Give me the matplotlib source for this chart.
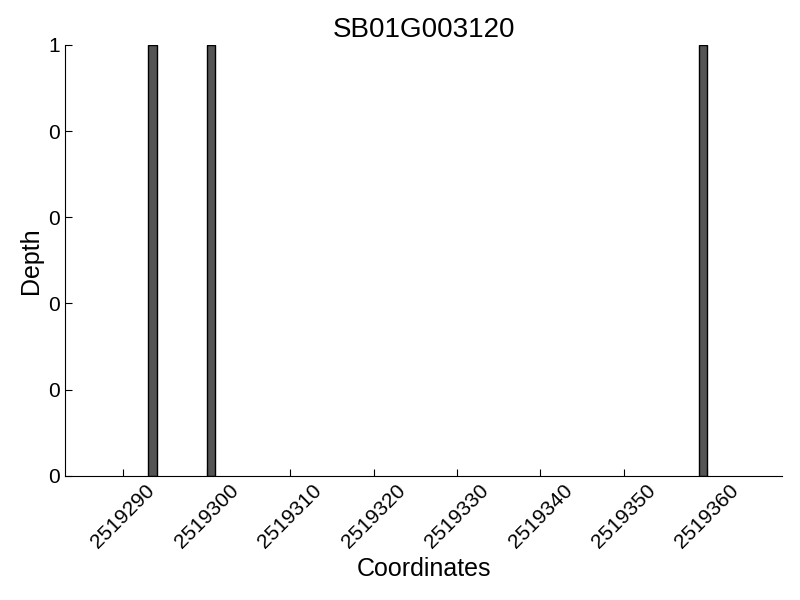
import matplotlib
matplotlib.use("Agg")
import matplotlib.pyplot as plt
from matplotlib.ticker import FormatStrFormatter

plt.rcParams["font.family"] = ["Liberation Sans", "DejaVu Sans"]

GENE = "SB01G003120"

REGION_START = 2519283
REGION_END = 2519369

coordinates = [2519293, 2519300, 2519359]
depths = [1, 1, 1]

x_ticks = [2519290, 2519300, 2519310, 2519320,
           2519330, 2519340, 2519350, 2519360]
y_ticks = [0, 0.2, 0.4, 0.6, 0.8, 1.0]

fig = plt.figure(figsize=(8, 6), dpi=100)
ax = fig.add_axes([0.081, 0.207, 0.897, 0.718])

ax.bar(
    coordinates,
    depths,
    width=1,
    align="edge",
    color="#555555",
    edgecolor="black",
    linewidth=1,
)

ax.set_xlim(REGION_START, REGION_END)
ax.set_ylim(0, 1)

ax.set_xticks(x_ticks)
ax.set_xticklabels([str(t) for t in x_ticks], rotation=45, fontsize=15)
ax.set_yticks(y_ticks)
ax.yaxis.set_major_formatter(FormatStrFormatter("%d"))
ax.tick_params(axis="y", labelsize=15)

ax.spines["top"].set_visible(False)
ax.spines["right"].set_visible(False)
ax.tick_params(direction="in", length=5, top=False, right=False)

ax.set_xlabel("Coordinates", fontsize=18)
ax.set_ylabel("Depth", fontsize=18)
ax.set_title(GENE, fontsize=20)

fig.savefig("out.png", dpi=100)
